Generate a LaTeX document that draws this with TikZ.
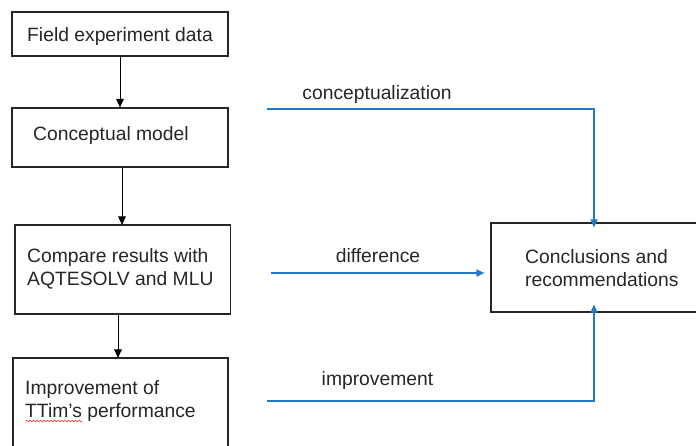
\documentclass[tikz,border=0pt]{standalone}
\usepackage{fontspec}
\setmainfont{Liberation Sans}
\usetikzlibrary{arrows.meta,decorations.pathmorphing}
\definecolor{flowblue}{RGB}{36,120,200}
\tikzset{
  box/.style={draw=black!85, line width=1.1pt, rectangle, inner sep=0pt},
  txt/.style={inner sep=0pt, yshift=-2.5pt, font=\fontsize{19.3}{23}\selectfont, text=black!85},
  blk/.style={draw=black, line width=1pt, -{Triangle[width=7.5pt,length=8.5pt]}},
  blu/.style={draw=flowblue, line width=1.4pt, -{Triangle[width=7pt,length=8pt]}},
}
\begin{document}
\begin{tikzpicture}[x=1pt,y=-1pt]
\useasboundingbox (0,0) rectangle (696,445);
\clip (0,0) rectangle (696,445);
% boxes
\node[box, minimum width=216, minimum height=44] (b1) at (120,34) {};
\node[box, minimum width=216, minimum height=59] (b2) at (120,137.5) {};
\node[box, minimum width=215.5, minimum height=89] (b3) at (122.75,269.5) {};
\node[box, minimum width=215, minimum height=104] (b4) at (120.5,410) {};
\node[box, minimum width=216, minimum height=89] (b5) at (599,267.5) {};
% box texts
\node[txt] (t1) at (b1) {Field experiment data};
\node[txt, anchor=west] (t2) at (33,133) {Conceptual model};
\node[txt, anchor=west, align=left] (t3) at (27,266.5) {Compare results with\\AQTESOLV and MLU};
\node[txt, anchor=west, align=left] (t4) at (25,399) {Improvement of\\TTim’s performance};
\node[txt, anchor=west, align=left] (t5) at (525,266) {Conclusions and\\recommendations};
% spell-check underline
\coordinate (s1) at (25.5,421);
\coordinate (s2) at (82,421);
\draw[red!85, line width=0.6pt, decorate, decoration={snake, segment length=3.5pt, amplitude=0.9pt}] (s1) -- (s2);
% black arrows
\draw[blk] (b1.south -| 120,0) -- (b2.north -| 120,0);
\draw[blk] (b2.south -| 122,0) -- ([yshift=-0.5]b3.north -| 122,0);
\draw[blk] (b3.south -| 118,0) -- ([yshift=-0.5]b4.north -| 118,0);
% blue connectors
\coordinate (c1) at (267,109);
\coordinate (c2) at (271,273);
\coordinate (c3) at (267,401);
\draw[blu] (c1) -- (594,109) -- ([yshift=-5]b5.north -| 594,0);
\draw[blu] (c2) -- ([xshift=-6]b5.west |- c2);
\draw[blu] (c3) -- (594,401) -- ([yshift=8]b5.south -| 594,0);
% labels
\node[txt] (l1) at (377,92) {conceptualization};
\node[txt] (l2) at (378,253) {difference};
\node[txt] (l3) at (377.5,378) {improvement};
\end{tikzpicture}
\end{document}
